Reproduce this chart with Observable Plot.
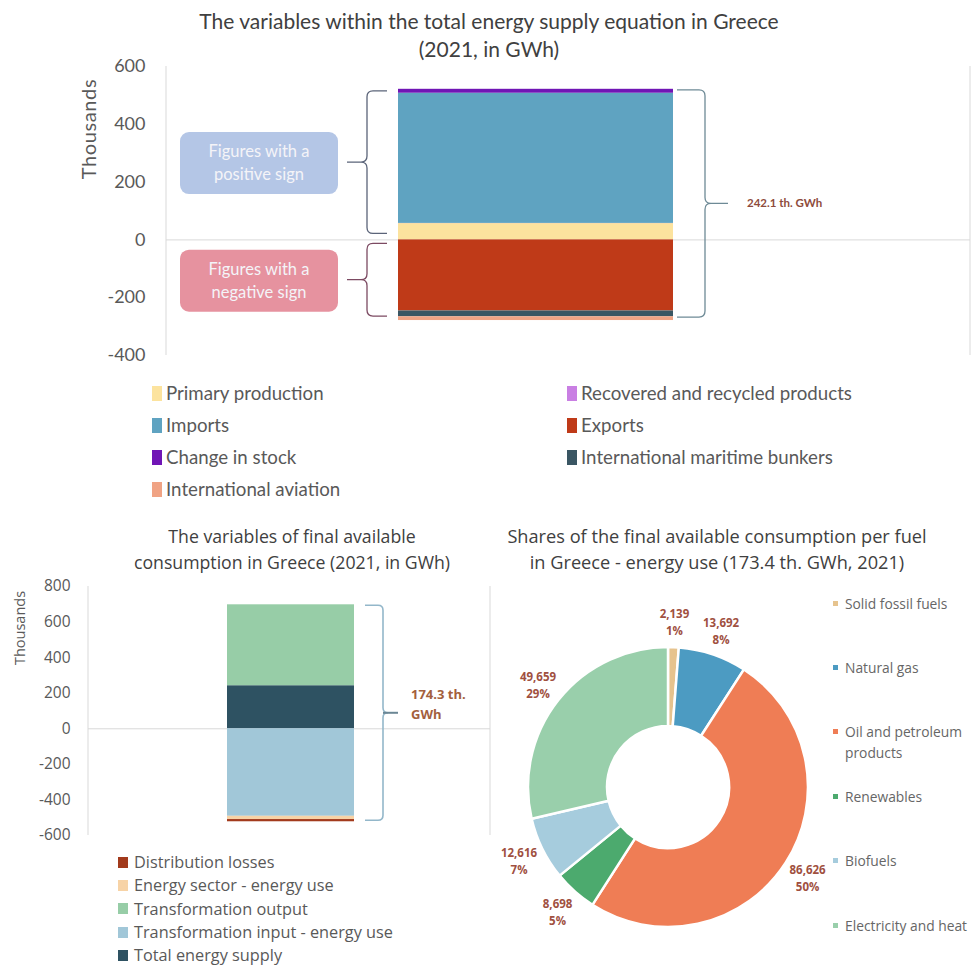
<!DOCTYPE html>
<html><head><meta charset="utf-8">
<script src="https://cdn.jsdelivr.net/npm/d3@7"></script>
<script src="https://cdn.jsdelivr.net/npm/@observablehq/plot@0.6"></script>
<style>
body{margin:0;background:#fff;}
#root{position:relative;width:978px;height:965px;overflow:hidden;font-family:Lato,"Open Sans",sans-serif;color:#595959;}
.abs{position:absolute;}
.title{text-align:center;color:#404040;}
.leg{position:absolute;white-space:nowrap;}
.sw{display:inline-block;vertical-align:middle;}
.os{font-family:"Open Sans",Lato,sans-serif;}
</style></head>
<body><div id="root"></div>
<script>
// ---------- DATA ----------
// Chart 1: total energy supply equation (thousand GWh)
const supplyCategories = ["Primary production","Recovered and recycled products","Imports","Exports","Change in stock","International maritime bunkers","International aviation"];
const supplyValues = [56.5, 0.6, 450.5, -246.0, 13.5, -20.0, -13.0];
const supplyTicks = [-400,-200,0,200,400,600];
// Chart 2: final available consumption (thousand GWh)
const consCategories = ["Distribution losses","Energy sector - energy use","Transformation output","Transformation input - energy use","Total energy supply"];
const consValues = [-12.5, -18.3, 455.0, -492.0, 242.1];
const consStackOrder = ["Total energy supply","Transformation output","Transformation input - energy use","Energy sector - energy use","Distribution losses"];
const consTicks = [-600,-400,-200,0,200,400,600,800];
// Chart 3: shares per fuel (GWh)
const fuels = ["Solid fossil fuels","Natural gas","Oil and petroleum products","Renewables","Biofuels","Electricity and heat"];
const fuelValues = [2139, 13692, 86626, 8698, 12616, 49659];

// ---------- STYLES ----------
const supplyColors = ["#FCE39E","#C97FE3","#5FA3C1","#BF3A18","#7015B5","#3A5663","#F0A384"];
const consColors = ["#A23A1C","#F7D3A6","#97CDA7","#A1C7D8","#2E5262"];
const fuelColors = ["#E6C38E","#4C9BC2","#EF7D55","#4CAA6E","#A6CCDD","#99CFAB"];
const FONT = "Lato, 'Open Sans', sans-serif";
const FONT2 = "'Open Sans', Lato, sans-serif";

const root = document.getElementById("root");
function addDiv(html, css, cls){const d=document.createElement("div");d.className=cls||"abs";d.style.cssText=css;d.innerHTML=html;root.appendChild(d);return d;}

function bracePath(x0, xs, xt, y1, y2, r){
  const d = Math.sign(xs - x0), ym = (y1+y2)/2;
  return `M${x0},${y1} L${xs-d*r},${y1} Q${xs},${y1} ${xs},${y1+r} L${xs},${ym-r} Q${xs},${ym} ${xs+d*r},${ym} L${xt},${ym} M${xs+d*r},${ym} Q${xs},${ym} ${xs},${ym+r} L${xs},${y2-r} Q${xs},${y2} ${xs-d*r},${y2} L${x0},${y2}`;
}
function frameSides(index, scales, values, dim){
  const g = d3.create("svg:g");
  const [y0,y1] = [dim.marginTop, dim.height - dim.marginBottom];
  for (const x of [dim.marginLeft, dim.width - dim.marginRight]) {
    g.append("line").attr("x1",x).attr("x2",x).attr("y1",y0).attr("y2",y1).attr("stroke","#D9D9D9");
  }
  return g.node();
}

// ---------- CHART 1 ----------
addDiv("The variables within the total energy supply equation in Greece<br>(2021, in GWh)",
  "left:0;width:978px;top:7px;font-size:21px;line-height:28px;", "abs title");
addDiv("Thousands","left:88px;top:129px;transform:translate(-50%,-50%) rotate(-90deg);font-size:20px;letter-spacing:0.6px;");

const supplyData = supplyCategories.map((c,i)=>({cat:c, v:supplyValues[i], g:"2021"}));
const posTotal = d3.sum(supplyValues.filter(v=>v>0));
const negTotal = d3.sum(supplyValues.filter(v=>v<0));
const netSupply = d3.sum(supplyValues);

function supplyAnnot(index, scales, values, dim){
  const g = d3.create("svg:g").attr("text-anchor","start");
  const y = scales.y, bx = scales.x("2021"), bw = scales.x.bandwidth();
  const yp = y(posTotal), y0 = y(0), yn = y(negTotal);
  const boxes = [
    {y1: yp+2, y2: y0-6, fill:"#B4C6E6", stroke:"#5B6479", t:["Figures with a","positive sign"]},
    {y1: y0+4, y2: yn-4, fill:"#E6929F", stroke:"#7C4A62", t:["Figures with a","negative sign"]}
  ];
  for (const b of boxes) {
    const ym = (b.y1+b.y2)/2;
    g.append("path").attr("d", bracePath(bx-11, bx-31, bx-51, b.y1, b.y2, 6)).attr("fill","none").attr("stroke",b.stroke).attr("stroke-width",1.3);
    g.append("rect").attr("x",180).attr("y",ym-30).attr("width",158).attr("height",62).attr("rx",9).attr("fill",b.fill);
    b.t.forEach((s,i)=>g.append("text").attr("x",259).attr("y",ym-9+i*23).attr("text-anchor","middle").attr("dominant-baseline","middle")
      .attr("fill","#F4F4F8").attr("font-size",16.5).text(s));
  }
  const xr = bx+bw;
  const ym = (yp+yn)/2;
  g.append("path").attr("d", bracePath(xr+4, xr+32, xr+55, yp+1, yn-3, 6)).attr("fill","none").attr("stroke","#6E8A96").attr("stroke-width",1.3);
  g.append("text").attr("x",xr+74).attr("y",ym).attr("text-anchor","start").attr("dominant-baseline","middle").attr("fill","#8E4B3C")
    .attr("font-weight","bold").attr("font-size",11.5).text(netSupply.toFixed(1)+" th. GWh");
  return g.node();
}

const chart1 = Plot.plot({
  width: 978, height: 310, marginTop: 10, marginBottom: 11, marginLeft: 166, marginRight: 8,
  style: {fontFamily: FONT, fontSize: "18px", color: "#595959", background: "transparent", overflow: "visible"},
  x: {type: "band", domain: ["2021"], padding: 0.49, align: 0.4386, axis: null},
  y: {domain: [-400, 600], ticks: supplyTicks, tickSize: 0, tickPadding: 21, tickFormat: d => String(d), label: null},
  color: {domain: supplyCategories, range: supplyColors},
  marks: [
    frameSides,
    Plot.ruleY([0], {stroke: "#D9D9D9"}),
    Plot.barY(supplyData, {x: "g", y: "v", fill: "cat"}),
    supplyAnnot
  ]
});
addDiv("", "left:0;top:56px;").appendChild(chart1);

// legend chart 1
const leg1Pos = [[152,393],[567,393],[152,425],[567,425],[152,457],[567,457],[152,489]];
supplyCategories.forEach((c,i)=>{
  const [x,y] = leg1Pos[i];
  addDiv(`<span class="sw" style="width:10px;height:15px;background:${supplyColors[i]};margin-right:4px;margin-top:-3px"></span>${c}`,
    `left:${x}px;top:${y-12}px;font-size:18.7px;line-height:24px;`, "leg");
});

// ---------- CHART 2 ----------
addDiv("The variables of final available<br>consumption in Greece (2021, in GWh)",
  "left:50px;top:523px;width:484px;font-size:17.7px;line-height:26px;", "abs title os");
addDiv("Thousands","left:19px;top:628px;transform:translate(-50%,-50%) rotate(-90deg);font-size:14.5px;", "abs os");

const consData = consStackOrder.map(c=>({cat:c, v:consValues[consCategories.indexOf(c)], g:"2021"}));
const consNet = d3.sum(consValues);
function consAnnot(index, scales, values, dim){
  const g = d3.create("svg:g").attr("text-anchor","start");
  const y = scales.y, bx = scales.x("2021"), bw = scales.x.bandwidth();
  const pos = d3.sum(consValues.filter(v=>v>0)), neg = d3.sum(consValues.filter(v=>v<0));
  const y1 = y(pos)+1, y2 = y(neg)-1, xr = bx+bw;
  const ym = (y1+y2)/2;
  g.append("path").attr("d", bracePath(xr+11, xr+29, xr+29, y1, y2, 5)).attr("fill","none").attr("stroke","#93B7CA").attr("stroke-width",1.6);
  g.append("line").attr("x1",xr+29).attr("x2",xr+44).attr("y1",ym).attr("y2",ym).attr("stroke","#6B8795").attr("stroke-width",2);
  g.append("text").attr("x",xr+57).attr("y",ym-17).attr("dominant-baseline","middle").attr("fill","#A3603D")
    .attr("font-weight","bold").attr("font-size",13).text(consNet.toFixed(1)+" th.");
  g.append("text").attr("x",xr+57).attr("y",ym+3).attr("dominant-baseline","middle").attr("fill","#A3603D")
    .attr("font-weight","bold").attr("font-size",13).text("GWh");
  return g.node();
}
const chart2 = Plot.plot({
  width: 492, height: 270, marginTop: 9, marginBottom: 12, marginLeft: 88, marginRight: 2,
  style: {fontFamily: FONT2, fontSize: "15.5px", color: "#595959", background: "transparent", overflow: "visible"},
  x: {type: "band", domain: ["2021"], padding: 0.52, align: 0.505, axis: null},
  y: {domain: [-600, 800], ticks: consTicks, tickSize: 0, tickPadding: 18, tickFormat: d => String(d), label: null},
  color: {domain: consCategories, range: consColors},
  marks: [
    frameSides,
    Plot.ruleY([0], {stroke: "#D9D9D9"}),
    Plot.barY(consData, {x: "g", y: "v", fill: "cat"}),
    consAnnot
  ]
});
addDiv("", "left:0;top:577px;").appendChild(chart2);

consCategories.forEach((c,i)=>{
  addDiv(`<span class="sw" style="width:10px;height:11px;background:${consColors[i]};margin-right:6px;margin-top:-3px"></span>${c}`,
    `left:118px;top:${862+i*23.3-11}px;font-size:16.3px;line-height:22px;`, "leg os");
});

// ---------- CHART 3 ----------
addDiv("Shares of the final available consumption per fuel<br>in Greece - energy use (173.4 th. GWh, 2021)",
  "left:467px;top:523px;width:500px;font-size:18.2px;line-height:26px;", "abs title os");

const fuelTotal = d3.sum(fuelValues);
function donut(index, scales, values, dim){
  const g = d3.create("svg:g");
  const cx = 180, cy = 212, R = 140, r0 = 61;
  const arcs = d3.pie().sort(null)(fuelValues);
  const arc = d3.arc().innerRadius(r0).outerRadius(R);
  const lab = d3.arc().innerRadius(166).outerRadius(166);
  const gg = g.append("g").attr("transform",`translate(${cx},${cy})`);
  arcs.forEach((a,i)=>{
    gg.append("path").attr("d",arc(a)).attr("fill",fuelColors[i]).attr("stroke","#fff").attr("stroke-width",2.5);
  });
  arcs.forEach((a,i)=>{
    const [lx,ly] = lab.centroid(a);
    const t = gg.append("text").attr("text-anchor","middle").attr("fill","#A0503F").attr("font-weight","bold").attr("font-size",11.5);
    t.append("tspan").attr("x",lx).attr("y",ly-3).text(d3.format(",")(fuelValues[i]));
    t.append("tspan").attr("x",lx).attr("y",ly+14).text(Math.round(fuelValues[i]/fuelTotal*100)+"%");
  });
  return g.node();
}
const chart3 = Plot.plot({
  width: 340, height: 400, margin: 0,
  style: {fontFamily: FONT2, background: "transparent", overflow: "visible"},
  x: {axis: null}, y: {axis: null},
  marks: [donut]
});
addDiv("", "left:488px;top:575px;").appendChild(chart3);

const fuelLegY = [604, 668, 732, 797, 861, 926];
fuels.forEach((f,i)=>{
  const txt = f === "Oil and petroleum products" ? "Oil and petroleum<br><span style='margin-left:12px'>products</span>" : f;
  addDiv(`<span class="sw" style="width:5px;height:5px;background:${fuelColors[i]};margin-right:7px;margin-top:-3px"></span>${txt}`,
    `left:833px;top:${fuelLegY[i]-11}px;font-size:13.8px;line-height:21px;color:#666;`, "leg os");
});
</script></body></html>
